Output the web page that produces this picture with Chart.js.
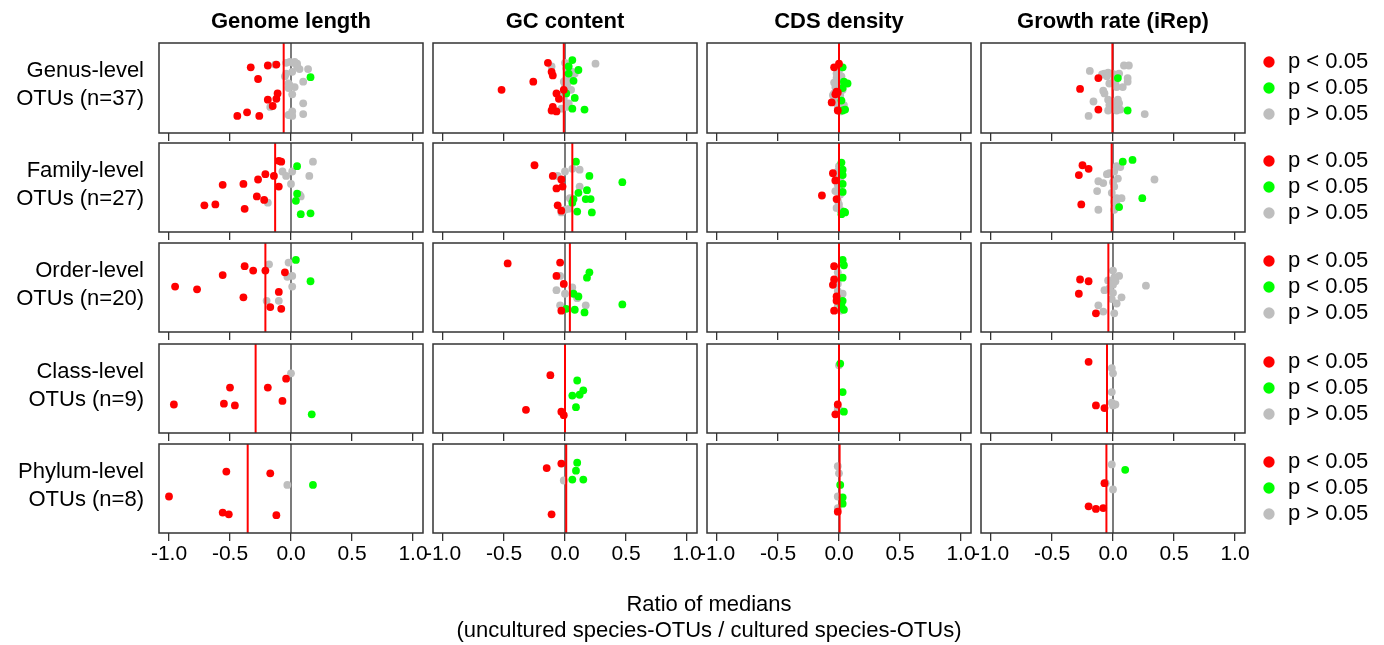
<!DOCTYPE html>
<html>
<head>
<meta charset="utf-8">
<script src="https://cdn.jsdelivr.net/npm/chart.js@4.4.0/dist/chart.umd.min.js"></script>
<style>
  html, body { margin: 0; padding: 0; background: #fff; overflow: hidden; }
  #page { position: relative; width: 1384px; height: 645px; background: #fff; }
  #page canvas { position: absolute; }
</style>
</head>
<body>
<div id="page"></div>
<script>
// ---------------------------------------------------------------
// labels
// ---------------------------------------------------------------
const metrics = ['Genome length', 'GC content', 'CDS density', 'Growth rate (iRep)'];
const levels = ['Genus-level', 'Family-level', 'Order-level', 'Class-level', 'Phylum-level'];
const levelN = [37, 27, 20, 9, 8];
const xTicks = [-1, -0.5, 0, 0.5, 1];
const groupLabels = ['p < 0.05', 'p < 0.05', 'p > 0.05'];
const groupColors = ['#ff0000', '#00ff00', '#bebebe'];
const axisTitle = ['Ratio of medians', '(uncultured species-OTUs / cultured species-OTUs)'];

// median ratio per level (red line), one array per metric
const medGenome = [-0.06, -0.13, -0.21, -0.29, -0.355];
const medGC     = [-0.01, 0.06, 0.04, 0.00, 0.01];
const medCDS    = [0.00, 0.00, 0.00, 0.00, 0.005];
const medIRep   = [-0.005, -0.011, -0.038, -0.049, -0.054];

// OTUs: [ratio, jitter (0..1), group]  group 0 = red, 1 = green, 2 = grey
const genusGenome = [[-0.33,0.73,0],[-0.19,0.75,0],[-0.12,0.76,0],[-0.27,0.60,0],[-0.11,0.44,0],[-0.19,0.37,0],[-0.12,0.38,0],[-0.15,0.30,0],[-0.44,0.19,0],[-0.36,0.23,0],[-0.26,0.19,0],
  [0.16,0.62,1],
  [-0.13,0.76,2],[-0.04,0.78,2],[-0.01,0.79,2],[0.03,0.79,2],[0.05,0.77,2],[0.07,0.71,2],[0.14,0.71,2],[0.01,0.68,2],[-0.05,0.63,2],[0.10,0.57,2],[-0.02,0.55,2],[0.03,0.51,2],[-0.02,0.50,2],
  [0.01,0.43,2],[0.10,0.33,2],[-0.17,0.29,2],[0.01,0.24,2],[-0.02,0.20,2],[0.10,0.21,2],[0.01,0.19,2],[-0.04,0.66,2],[0.05,0.74,2],[0.02,0.78,2],[-0.01,0.53,2],[-0.01,0.20,2]];
const familyGenome = [[-0.10,0.80,0],[-0.08,0.79,0],[-0.21,0.65,0],[-0.14,0.63,0],[-0.27,0.59,0],[-0.10,0.51,0],[-0.56,0.53,0],[-0.39,0.54,0],[-0.28,0.40,0],[-0.22,0.36,0],[-0.71,0.30,0],[-0.62,0.31,0],[-0.38,0.26,0],
  [0.05,0.74,1],[0.05,0.43,1],[0.04,0.35,1],[0.08,0.20,1],[0.16,0.21,1],
  [0.18,0.79,2],[-0.07,0.68,2],[-0.04,0.63,2],[0.01,0.68,2],[0.15,0.63,2],[0.00,0.54,2],[0.08,0.40,2],[-0.19,0.33,2],[0.07,0.42,2]];
const orderGenome = [[-0.38,0.74,0],[-0.31,0.69,0],[-0.21,0.69,0],[-0.56,0.64,0],[-0.05,0.67,0],[-0.95,0.51,0],[-0.77,0.48,0],[-0.10,0.45,0],[-0.39,0.39,0],[-0.17,0.28,0],[-0.08,0.26,0],
  [0.04,0.81,1],[0.16,0.57,1],
  [-0.18,0.76,2],[-0.02,0.78,2],[-0.03,0.62,2],[0.01,0.63,2],[0.01,0.51,2],[-0.20,0.35,2],[-0.10,0.35,2]];
const classGenome = [[-0.50,0.51,0],[-0.19,0.51,0],[-0.04,0.61,0],[-0.96,0.32,0],[-0.55,0.33,0],[-0.46,0.31,0],[-0.07,0.36,0],
  [0.17,0.21,1], [0.00,0.67,2]];
const phylumGenome = [[-0.53,0.69,0],[-0.17,0.67,0],[-1.00,0.41,0],[-0.56,0.23,0],[-0.51,0.21,0],[-0.12,0.20,0],
  [0.18,0.54,1], [-0.03,0.54,2]];

const genusGC = [[-0.14,0.78,0],[-0.11,0.68,0],[-0.10,0.64,0],[-0.26,0.57,0],[-0.52,0.48,0],[-0.07,0.44,0],[-0.05,0.38,0],[-0.01,0.48,0],[-0.10,0.29,0],[-0.11,0.25,0],[-0.07,0.24,0],
  [0.06,0.81,1],[0.03,0.74,1],[0.11,0.70,1],[0.03,0.66,1],[0.07,0.58,1],[0.01,0.44,1],[0.08,0.39,1],[0.06,0.27,1],[0.16,0.26,1],
  [-0.11,0.74,2],[0.00,0.78,2],[0.25,0.77,2],[0.06,0.68,2],[0.01,0.60,2],[0.02,0.55,2],[0.05,0.48,2],[0.00,0.51,2],[0.01,0.29,2],[-0.03,0.27,2],[0.01,0.72,2],[0.04,0.63,2],[-0.01,0.57,2],
  [0.03,0.33,2],[-0.04,0.42,2],[0.08,0.66,2],[-0.01,0.38,2]];
const familyGC = [[-0.25,0.75,0],[-0.10,0.63,0],[-0.03,0.59,0],[-0.02,0.51,0],[-0.07,0.49,0],[-0.06,0.30,0],[-0.03,0.24,0],
  [0.09,0.79,1],[0.20,0.63,1],[0.47,0.56,1],[0.18,0.47,1],[0.11,0.44,1],[0.17,0.37,1],[0.21,0.37,1],[0.07,0.37,1],[0.06,0.33,1],[0.10,0.23,1],[0.22,0.22,1],
  [0.06,0.71,2],[0.12,0.70,2],[0.00,0.68,2],[-0.06,0.63,2],[0.12,0.51,2],[0.04,0.38,2],[0.00,0.25,2],[-0.03,0.22,2],[0.03,0.26,2]];
const orderGC = [[-0.47,0.77,0],[-0.04,0.78,0],[-0.07,0.63,0],[-0.01,0.54,0],[-0.03,0.24,0],
  [0.20,0.67,1],[0.18,0.61,1],[0.07,0.43,1],[0.11,0.40,1],[0.47,0.31,1],[0.01,0.26,1],[0.08,0.25,1],[0.16,0.22,1],
  [-0.04,0.63,2],[0.06,0.50,2],[-0.07,0.47,2],[0.00,0.43,2],[0.10,0.38,2],[-0.04,0.30,2],[0.17,0.30,2]];
const classGC = [[-0.12,0.65,0],[-0.32,0.26,0],[-0.03,0.24,0],[-0.01,0.20,0],
  [0.10,0.59,1],[0.15,0.48,1],[0.06,0.42,1],[0.12,0.43,1],[0.09,0.29,1]];
const phylumGC = [[-0.03,0.78,0],[-0.15,0.73,0],[-0.11,0.21,0],
  [0.10,0.79,1],[0.09,0.70,1],[0.06,0.60,1],[0.15,0.60,1], [-0.01,0.59,2]];

const genusCDS = [[-0.04,0.73,0],[0.00,0.77,0],[-0.01,0.45,0],[-0.03,0.43,0],[-0.06,0.34,0],[-0.01,0.25,0],[-0.02,0.46,0],
  [0.03,0.73,1],[0.04,0.57,1],[0.07,0.55,1],[0.03,0.50,1],[0.02,0.36,1],[0.05,0.26,1],[0.03,0.25,1],
  [-0.01,0.68,2],[0.00,0.65,2],[-0.02,0.61,2],[0.01,0.59,2],[-0.01,0.53,2],[-0.04,0.44,2],[-0.05,0.42,2],[0.01,0.42,2],[-0.03,0.38,2],[0.01,0.37,2],[-0.01,0.31,2],[0.02,0.29,2],
  [0.00,0.70,2],[-0.03,0.51,2],[0.03,0.48,2],[-0.03,0.37,2],[0.01,0.24,2],[-0.01,0.27,2],[0.01,0.57,2],[-0.02,0.66,2],[0.02,0.63,2],[-0.04,0.56,2],[0.04,0.31,2]];
const familyCDS = [[-0.05,0.66,0],[-0.03,0.58,0],[-0.14,0.41,0],[-0.02,0.37,0],
  [0.02,0.78,1],[0.03,0.70,1],[0.03,0.64,1],[0.03,0.54,1],[0.03,0.45,1],[0.04,0.23,1],[0.05,0.22,1],[0.02,0.20,1],
  [0.00,0.74,2],[-0.01,0.68,2],[0.01,0.66,2],[-0.02,0.62,2],[0.01,0.60,2],[-0.01,0.53,2],[0.00,0.50,2],[-0.03,0.46,2],[0.01,0.42,2],[-0.01,0.35,2],[0.00,0.31,2],[-0.02,0.27,2],
  [0.01,0.25,2],[-0.01,0.57,2],[0.01,0.70,2]];
const orderCDS = [[-0.04,0.74,0],[-0.04,0.59,0],[-0.05,0.53,0],[-0.02,0.40,0],[-0.02,0.35,0],[-0.04,0.24,0],
  [0.03,0.81,1],[0.04,0.75,1],[0.03,0.61,1],[0.03,0.35,1],[0.02,0.30,1],[0.04,0.25,1],
  [-0.01,0.67,2],[-0.01,0.54,2],[0.03,0.43,2],[0.01,0.38,2],[-0.01,0.46,2],[-0.01,0.29,2],[0.01,0.24,2],[0.00,0.62,2]];
const classCDS = [[-0.01,0.32,0],[-0.03,0.21,0],
  [0.01,0.78,1],[0.03,0.46,1],[0.04,0.24,1],
  [0.00,0.76,2],[-0.01,0.29,2],[0.01,0.25,2],[-0.01,0.26,2]];
const phylumCDS = [[-0.01,0.24,0],
  [0.01,0.54,1],[0.03,0.40,1],[0.03,0.33,1],
  [-0.01,0.75,2],[0.00,0.67,2],[-0.01,0.41,2],[-0.01,0.28,2]];

const genusIRep = [[-0.12,0.61,0],[-0.27,0.49,0],[-0.12,0.26,0],
  [0.04,0.61,1],[0.12,0.25,1],
  [-0.19,0.69,2],[-0.07,0.66,2],[-0.04,0.67,2],[-0.01,0.66,2],[0.01,0.65,2],[0.09,0.75,2],[0.13,0.75,2],[0.12,0.61,2],[0.12,0.57,2],[0.08,0.51,2],[0.02,0.55,2],[0.03,0.51,2],
  [-0.08,0.47,2],[-0.07,0.44,2],[-0.16,0.35,2],[-0.04,0.37,2],[0.04,0.37,2],[0.05,0.33,2],[-0.03,0.31,2],[0.00,0.27,2],[0.06,0.26,2],[0.26,0.21,2],[-0.20,0.19,2],[-0.05,0.63,2],
  [-0.09,0.65,2],[0.01,0.59,2],[-0.03,0.55,2],[0.02,0.31,2],[-0.01,0.35,2],[0.05,0.66,2],[-0.04,0.25,2],[0.03,0.25,2]];
const familyIRep = [[-0.25,0.75,0],[-0.20,0.71,0],[-0.28,0.64,0],[-0.26,0.31,0],
  [0.08,0.79,1],[0.16,0.81,1],[0.24,0.38,1],[0.05,0.28,1],
  [0.03,0.74,2],[0.06,0.73,2],[-0.05,0.65,2],[0.04,0.60,2],[0.34,0.59,2],[-0.12,0.57,2],[-0.08,0.55,2],[0.00,0.56,2],[0.01,0.51,2],[-0.13,0.46,2],[0.03,0.38,2],[0.07,0.38,2],
  [-0.12,0.25,2],[0.01,0.25,2],[0.01,0.34,2],[-0.03,0.66,2],[0.01,0.68,2],[0.03,0.31,2],[-0.01,0.44,2]];
const orderIRep = [[-0.27,0.59,0],[-0.20,0.57,0],[-0.28,0.43,0],[-0.14,0.21,0],
  [0.00,0.69,2],[0.05,0.63,2],[-0.04,0.58,2],[0.02,0.57,2],[0.00,0.53,2],[0.27,0.52,2],[-0.07,0.47,2],[0.00,0.44,2],[0.07,0.39,2],[-0.01,0.37,2],[0.03,0.32,2],[-0.12,0.30,2],
  [-0.08,0.23,2],[0.01,0.21,2],[-0.03,0.49,2],[0.01,0.61,2]];
const classIRep = [[-0.20,0.80,0],[-0.14,0.31,0],[-0.07,0.28,0],
  [-0.01,0.73,2],[0.00,0.67,2],[-0.01,0.46,2],[0.00,0.31,2],[0.02,0.32,2],[-0.01,0.34,2]];
const phylumIRep = [[-0.07,0.56,0],[-0.20,0.30,0],[-0.14,0.27,0],[-0.08,0.28,0],
  [0.10,0.71,1],
  [-0.01,0.77,2],[0.00,0.49,2],[-0.06,0.56,2]];

const panels = [
  [genusGenome, genusGC, genusCDS, genusIRep],
  [familyGenome, familyGC, familyCDS, familyIRep],
  [orderGenome, orderGC, orderCDS, orderIRep],
  [classGenome, classGC, classCDS, classIRep],
  [phylumGenome, phylumGC, phylumCDS, phylumIRep]
];
const medians = [medGenome, medGC, medCDS, medIRep];

// ---------------------------------------------------------------
// page layout (pixels)
// ---------------------------------------------------------------
const colLeft = [159, 433, 707, 981];
const rowTop = [43, 142, 242, 343, 443];
const panelW = 264, panelH = 90;

Chart.defaults.font.family = '"Liberation Sans", Arial, Helvetica, sans-serif';
Chart.defaults.font.size = 22;
Chart.defaults.color = '#000';

var page = document.getElementById('page');

var makeCanvas = function(left, top, w, h){
  var c = document.createElement('canvas');
  c.width = w; c.height = h;
  c.style.left = left + 'px'; c.style.top = top + 'px';
  c.style.width = w + 'px'; c.style.height = h + 'px';
  page.appendChild(c);
  return c;
};

// box round every panel
var frame = {
  id: 'frame',
  afterDatasetsDraw: function(chart){
    var a = chart.chartArea, ctx = chart.ctx;
    ctx.save();
    ctx.strokeStyle = '#333';
    ctx.lineWidth = 1.5;
    ctx.strokeRect(a.left, a.top, a.right - a.left, a.bottom - a.top);
    ctx.restore();
  }
};

// two line label left of the first column
var rowLabel = {
  id: 'rowLabel',
  afterDraw: function(chart, args, opts){
    if(!opts.lines) return;
    var a = chart.chartArea, ctx = chart.ctx;
    var mid = (a.top + a.bottom) / 2 - 3;
    ctx.save();
    ctx.font = '22px ' + Chart.defaults.font.family;
    ctx.fillStyle = '#000';
    ctx.textAlign = 'right';
    ctx.textBaseline = 'middle';
    opts.lines.forEach(function(t, i){ ctx.fillText(t, a.left - 15, mid + (i - 0.5) * 28); });
    ctx.restore();
  }
};

//--------------------------------------------------------------------------------------
// one scatter chart per panel
//--------------------------------------------------------------------------------------
levels.forEach(function(level, r){
  metrics.forEach(function(metric, c){
    var topRow = r === 0;
    var bottomRow = r === levels.length - 1;
    var padL = c === 0 ? colLeft[0] : 30, padR = 30, padT = 3;
    var titleH = topRow ? 43 : 0;
    var axisH = bottomRow ? 44 : 9;
    var cv = makeCanvas(colLeft[c] - padL, rowTop[r] - padT - titleH, padL + panelW + padR, padT + titleH + panelH + axisH);

    var pts = panels[r][c];
    var med = medians[c][r];
    var datasets = groupLabels.map(function(lab, g){
      return {
        label: lab,
        data: pts.filter(function(p){ return p[2] === g; }).map(function(p){ return {x: p[0], y: p[1]}; }),
        backgroundColor: groupColors[g],
        borderWidth: 0,
        pointRadius: 3.9,
        order: g + 1
      };
    });
    datasets.push({label: 'median', data: [{x: med, y: 0}, {x: med, y: 1}], showLine: true,
      borderColor: '#ff0000', borderWidth: 2, pointRadius: 0, order: 0});
    datasets.push({label: 'zero', data: [{x: 0, y: 0}, {x: 0, y: 1}], showLine: true,
      borderColor: '#333', borderWidth: 1.3, pointRadius: 0, order: 9});

    new Chart(cv, {
      type: 'scatter',
      data: { datasets: datasets },
      plugins: [frame, rowLabel],
      options: {
        responsive: false,
        animation: false,
        events: [],
        layout: { padding: { left: padL, right: padR, top: padT, bottom: 0 } },
        scales: {
          x: {
            type: 'linear', min: -1.082, max: 1.082, bounds: 'data',
            afterBuildTicks: function(s){ s.ticks = xTicks.map(function(v){ return {value: v}; }); },
            afterFit: function(s){ s.height = axisH; },
            border: { display: false },
            grid: { drawOnChartArea: false, drawTicks: true, tickLength: 8, color: '#333', lineWidth: 1.3 },
            ticks: { display: bottomRow, padding: 1, color: '#000', font: { size: 21 }, maxRotation: 0, autoSkip: false,
              callback: function(v){ return Number(v).toFixed(1); } }
          },
          y: { type: 'linear', min: 0, max: 1, display: false }
        },
        plugins: {
          legend: { display: false },
          tooltip: { enabled: false },
          title: { display: topRow, text: metric, color: '#000',
            font: { size: 22, weight: 'bold', lineHeight: '28px' }, padding: { top: 8, bottom: 7 } },
          rowLabel: { lines: c === 0 ? [level, 'OTUs (n=' + levelN[r] + ')'] : null }
        }
      }
    });
  });
});

//--------------------------------------------------------------------------------------
// legend right of every row
//--------------------------------------------------------------------------------------
levels.forEach(function(level, r){
  var cv = makeCanvas(1257, rowTop[r] + panelH / 2 - 60, 127, 120);
  new Chart(cv, {
    type: 'scatter',
    data: { datasets: groupLabels.map(function(lab, g){
      return { label: lab, data: [], backgroundColor: groupColors[g], borderWidth: 0, pointStyle: 'circle' };
    }) },
    options: {
      responsive: false,
      animation: false,
      events: [],
      scales: { x: { display: false }, y: { display: false } },
      plugins: {
        tooltip: { enabled: false },
        legend: {
          position: 'left', align: 'center', maxWidth: 127,
          labels: { usePointStyle: true, pointStyle: 'circle', boxWidth: 16, boxHeight: 8, padding: 4,
            color: '#000', font: { size: 22 } }
        }
      }
    }
  });
});

//--------------------------------------------------------------------------------------
// common x axis title
//--------------------------------------------------------------------------------------
var tc = makeCanvas(409, 585, 600, 60);
new Chart(tc, {
  type: 'scatter',
  data: { datasets: [] },
  options: {
    responsive: false,
    animation: false,
    events: [],
    scales: { x: { display: false }, y: { display: false } },
    plugins: {
      legend: { display: false },
      tooltip: { enabled: false },
      title: { display: true, text: axisTitle, color: '#000',
        font: { size: 22, weight: 'normal', lineHeight: '26px' }, padding: { top: 7, bottom: 0 } }
    }
  }
});
</script>
</body>
</html>
